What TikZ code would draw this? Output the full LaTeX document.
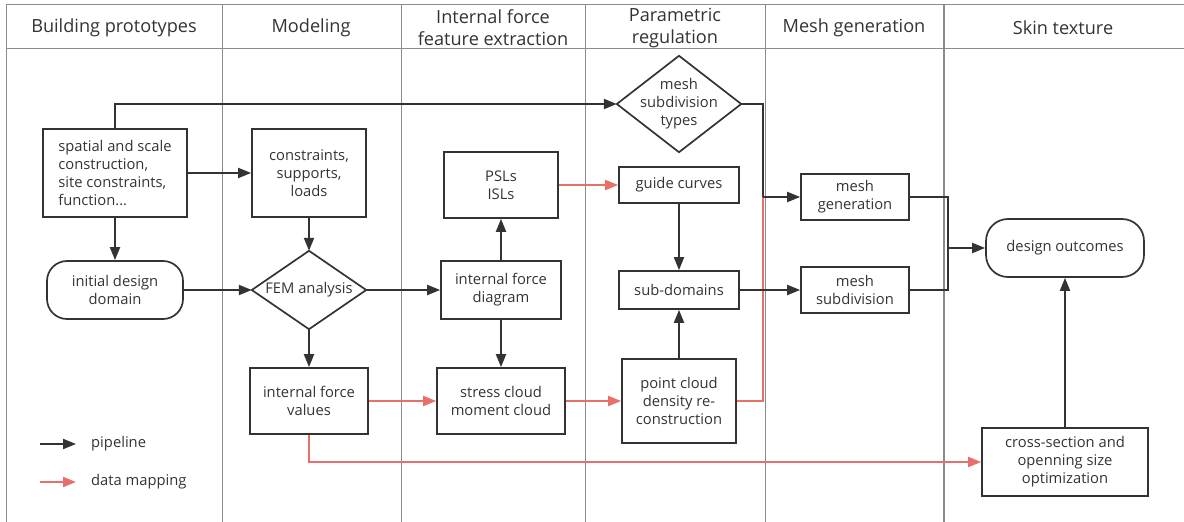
\documentclass[tikz,border=0pt]{standalone}
\usepackage{fontspec}
\setmainfont{Open Sans}
\usetikzlibrary{arrows.meta}
\definecolor{ink}{HTML}{333333}
\definecolor{lane}{HTML}{8C8C8C}
\definecolor{mapred}{HTML}{E8706B}
\tikzset{
  box/.style={draw=ink, line width=1.7bp, text=ink, inner sep=2bp, align=center,
    font=\fontsize{14.8}{18}\selectfont},
  roundbox/.style={box, rounded corners=20bp},
  diamondlabel/.style={text=ink, inner sep=0bp, align=center, font=\fontsize{14.8}{18}\selectfont},
  header/.style={text=ink, align=center, font=\fontsize{18.2}{22}\selectfont},
  legendtext/.style={text=ink, anchor=west, inner sep=0bp, font=\fontsize{14.8}{18}\selectfont},
  flow/.style={draw=ink, line width=2bp, -{Triangle[length=13bp,width=10bp]}},
  flowline/.style={draw=ink, line width=2bp},
  mapflow/.style={draw=mapred, line width=2bp, -{Triangle[length=13bp,width=10bp]}},
  mapline/.style={draw=mapred, line width=2bp},
  laneline/.style={draw=lane, line width=1bp}
}
\begin{document}
\begin{tikzpicture}[x=1bp,y=-1bp]
\useasboundingbox (0,0) rectangle (1184,522);
% swimlane frame
\draw[laneline] (1184,4.5) -- (6.5,4.5) -- (6.5,522);
\draw[laneline] (6.5,48.5) -- (1184,48.5);
\foreach \xx in {222.5,401.5,585.5,765.5} \draw[laneline] (\xx,4.5) -- (\xx,522);
\draw[laneline, line width=2bp] (944,4.5) -- (944,522);
% headers
\node[header] (h1) at (114,27.5) {Building prototypes};
\node[header] (h2) at (311,27.5) {Modeling};
\node[header] (h3) at (493,28) {Internal force\\feature extraction};
\node[header] (h4) at (675,28) {Parametric\\regulation};
\node[header] (h5) at (854,27.5) {Mesh generation};
\node[header] (h6) at (1063,27.5) {Skin texture};
% nodes
\node[box, minimum width=144bp, minimum height=88bp, align=left] (spatial) at (115,173)
  {spatial and scale\\construction,\\site constraints,\\function...};
\node[box, minimum width=114bp, minimum height=88bp] (constr) at (309,173)
  {constraints,\\supports,\\loads};
\node[roundbox, minimum width=136bp, minimum height=58bp] (idd) at (115,290)
  {initial design\\domain};
\node[diamondlabel, minimum width=114bp, minimum height=78bp] (fem) at (309,290) {FEM analysis};
\draw[ink, line width=1.7bp] (fem.north) -- (fem.east) -- (fem.south) -- (fem.west) -- cycle;
\node[diamondlabel, minimum width=124bp, minimum height=96bp] (mst) at (679,104)
  {mesh\\subdivision\\types};
\draw[ink, line width=1.7bp] (mst.north) -- (mst.east) -- (mst.south) -- (mst.west) -- cycle;
\node[box, minimum width=114bp, minimum height=66bp] (psl) at (501,185) {PSLs\\ISLs};
\node[box, minimum width=120bp, minimum height=36bp] (guide) at (679,185) {guide curves};
\node[box, minimum width=120bp, minimum height=58bp] (ifd) at (501,290) {internal force\\diagram};
\node[box, minimum width=120bp, minimum height=38bp] (sub) at (679,290) {sub-domains};
\node[box, minimum width=108bp, minimum height=46bp] (mgen) at (855,197) {mesh\\generation};
\node[box, minimum width=108bp, minimum height=46bp] (msub) at (855,290) {mesh\\subdivision};
\node[roundbox, minimum width=158bp, minimum height=58bp, rounded corners=22bp] (out) at (1065,248) {design outcomes};
\node[box, minimum width=118bp, minimum height=66bp] (ifv) at (309,401) {internal force\\values};
\node[box, minimum width=128bp, minimum height=66bp] (stress) at (501,401) {stress cloud\\moment cloud};
\node[box, minimum width=114bp, minimum height=84bp] (pcd) at (679,401) {point cloud\\density re-\\construction};
\node[box, minimum width=166bp, minimum height=68bp] (cross) at (1065,462) {cross-section and\\openning size\\optimization};
% junctions
\coordinate (j1) at (763,197);
\coordinate (j2) at (948,248);
% data mapping connectors (red)
\draw[mapline] (pcd.east) -| (j1);
\draw[mapflow] (ifv.east) -- (stress.west);
\draw[mapflow] (stress.east) -- (pcd.west);
\draw[mapflow] (psl.east) -- (guide.west);
\draw[mapflow] (ifv.south) |- (cross.west);
% pipeline connectors
\draw[flow] (spatial.north) |- (mst.west);
\draw[flow] (spatial.east) -- (constr.west);
\draw[flow] (spatial.south) -- (idd.north);
\draw[flow] (idd.east) -- (fem.west);
\draw[flow] (constr.south) -- (fem.north);
\draw[flow] (fem.east) -- (ifd.west);
\draw[flow] (fem.south) -- (ifv.north);
\draw[flow] (ifd.north) -- (psl.south);
\draw[flow] (ifd.south) -- (stress.north);
\draw[flow] (guide.south) -- (sub.north);
\draw[flow] (pcd.north) -- (sub.south);
\draw[flow] (sub.east) -- (msub.west);
\draw[flowline] (mst.east) -| (j1);
\draw[flow] (j1) -- (mgen.west);
\draw[flowline] (mgen.east) -| (j2);
\draw[flowline] (msub.east) -| (j2);
\draw[flow] (j2) -- (out.west);
\draw[flow] (cross.north) -- (out.south);
% legend
\coordinate (lp1) at (40,444);
\coordinate (lp2) at (76,444);
\coordinate (lm1) at (40,482);
\coordinate (lm2) at (76,482);
\draw[flow] (lp1) -- (lp2);
\draw[mapflow] (lm1) -- (lm2);
\node[legendtext] (lpt) at (91,444) {pipeline};
\node[legendtext] (lmt) at (91,482) {data mapping};
\end{tikzpicture}
\end{document}
